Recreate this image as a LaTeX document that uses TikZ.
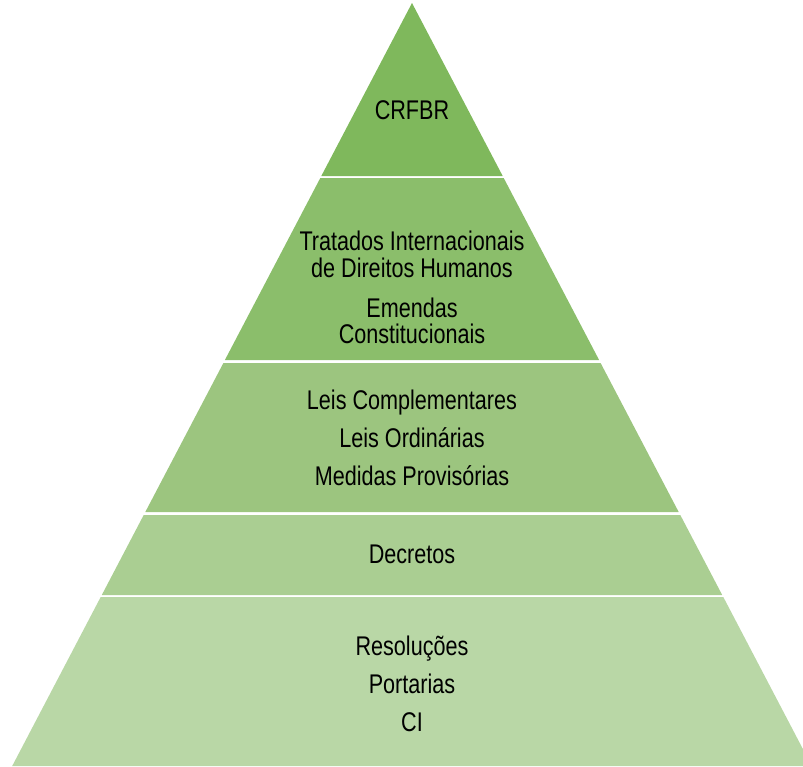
\documentclass[tikz,border=0pt]{standalone}
\usepackage{fontspec}
\setmainfont[FakeStretch=0.8]{Liberation Sans}
\definecolor{gA}{HTML}{7FB85C}
\definecolor{gB}{HTML}{8BBE6B}
\definecolor{gC}{HTML}{9CC57F}
\definecolor{gD}{HTML}{AACE92}
\definecolor{gE}{HTML}{B9D7A6}
\tikzset{
  lbl/.style={anchor=base, inner sep=0pt, font=\fontsize{27}{28}\selectfont, text=black},
}
\begin{document}
\begin{tikzpicture}[x=1pt,y=-1pt]
\useasboundingbox (0,0) rectangle (803,766);
\clip (0,0) rectangle (803,766);
% bands (image coordinates, y downward)
\fill[gA] (412,3) -- (502.7,176) -- (321.3,176) -- cycle;
\fill[gB] (320.3,178) -- (503.7,178) -- (599.1,360) -- (224.9,360) -- cycle;
\fill[gC] (223.4,363) -- (600.6,363) -- (678.7,512) -- (145.3,512) -- cycle;
\fill[gD] (143.7,515) -- (680.3,515) -- (722.2,595) -- (101.8,595) -- cycle;
\fill[gE] (100.7,597) -- (723.3,597) -- (811.8,766) -- (12.2,766) -- cycle;
% labels
\node[lbl] (crfbr) at (412,119) {CRFBR};
\node[lbl] (trat1) at (412,250) {Tratados Internacionais};
\node[lbl] (trat2) at (412,277) {de Direitos Humanos};
\node[lbl] (emen1) at (412,317) {Emendas};
\node[lbl] (emen2) at (412,343) {Constitucionais};
\node[lbl] (lc) at (412,409) {Leis Complementares};
\node[lbl] (lo) at (412,447) {Leis Ordinárias};
\node[lbl] (mp) at (412,485) {Medidas Provisórias};
\node[lbl] (dec) at (412,563) {Decretos};
\node[lbl] (res) at (412,655) {Resoluções};
\node[lbl] (por) at (412,693) {Portarias};
\node[lbl] (ci) at (412,731) {CI};
\end{tikzpicture}
\end{document}
